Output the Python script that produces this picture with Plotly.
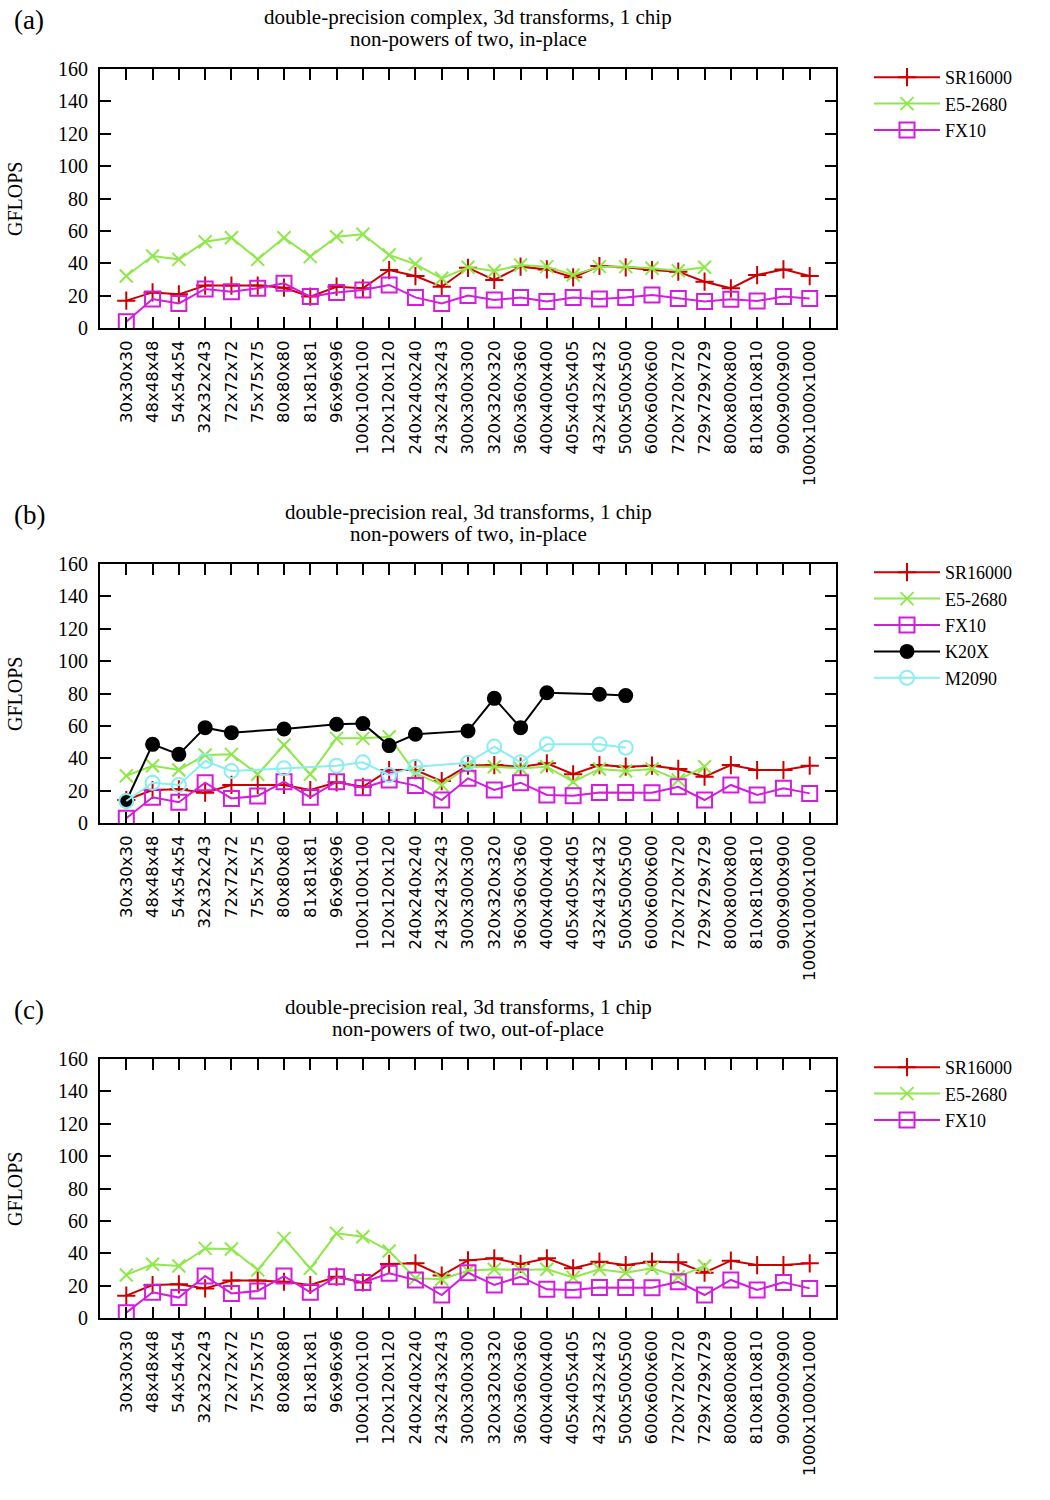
import plotly.graph_objects as go

categories = ["30x30x30", "48x48x48", "54x54x54", "32x32x243", "72x72x72", "75x75x75",
              "80x80x80", "81x81x81", "96x96x96", "100x100x100", "120x120x120",
              "240x240x240", "243x243x243", "300x300x300", "320x320x320", "360x360x360",
              "400x400x400", "405x405x405", "432x432x432", "500x500x500", "600x600x600",
              "720x720x720", "729x729x729", "800x800x800", "810x810x810", "900x900x900",
              "1000x1000x1000"]

y_ticks = [0, 20, 40, 60, 80, 100, 120, 140, 160]

# (a) double-precision complex, in-place
a_sr16000 = [16.9, 22.0, 20.8, 26.2, 26.2, 26.2, 24.9, 19.4, 25.5, 24.5, 35.8, 32.1, 25.5, 37.2,
             29.7, 37.9, 36.2, 31.3, 38.3, 37.5, 35.8, 34.8, 28.6, 24.5, 32.7, 36.2, 32.1]
a_e52680 = [32.1, 44.5, 42.4, 53.3, 55.8, 42.4, 55.8, 44.1, 56.4, 57.9, 45.1, 39.5, 30.7, 37.5,
            35.2, 38.9, 37.9, 32.7, 37.9, 37.9, 36.9, 35.4, 37.5, None, None, None, None]
a_fx10 = [3.9, 17.9, 15.2, 24.1, 22.4, 24.5, 27.6, 19.4, 22.0, 23.5, 26.6, 18.9, 15.2, 20.1,
          17.3, 18.9, 16.3, 18.9, 17.9, 18.9, 20.4, 18.3, 16.3, 17.7, 16.7, 19.4, 18.3]

# (b) double-precision real, in-place
b_sr16000 = [14.2, 20.4, 20.8, 18.7, 23.5, 23.5, 23.5, 20.4, 25.1, 22.4, 32.7, 32.7, 25.9, 35.5,
             35.8, 34.8, 36.9, 30.1, 35.8, 34.8, 35.4, 33.4, 28.6, 35.8, 32.7, 32.7, 35.4]
b_e52680 = [29.2, 35.4, 32.7, 42.0, 42.4, 30.1, 48.2, 30.1, 52.3, 52.3, 53.3, 30.7, 23.5, 34.8,
            34.8, 33.8, 34.8, 25.5, 33.4, 32.1, 33.4, 26.6, 34.8, None, None, None, None]
b_fx10 = [2.9, 15.9, 12.8, 24.9, 15.2, 16.7, 25.5, 15.9, 25.5, 21.8, 26.6, 23.1, 14.2, 27.6,
          20.4, 24.9, 17.3, 16.9, 18.9, 18.9, 18.7, 22.4, 14.2, 23.5, 17.3, 21.4, 18.3]
b_k20x = [13.6, 48.6, 42.4, 58.9, 55.8, None, 58.1, None, 61.0, 61.4, 47.8, 54.8, None, 56.9,
          77.0, 58.9, 80.5, None, 79.5, 78.7, None, None, None, None, None, None, None]
b_m2090 = [13.6, 24.9, 23.5, 38.3, 32.1, None, 33.8, None, 35.4, 37.5, 29.7, 34.8, None, 37.2,
           47.2, 37.5, 48.6, None, 48.6, 46.5, None, None, None, None, None, None, None]

# (c) double-precision real, out-of-place
c_sr16000 = [13.8, 20.4, 20.8, 18.3, 23.1, 23.1, 22.4, 20.4, 25.5, 22.0, 33.4, 33.8, 26.2, 35.6,
             36.9, 33.4, 36.9, 30.7, 34.8, 32.7, 34.8, 34.4, 28.0, 35.4, 32.7, 32.7, 33.8]
c_e52680 = [26.6, 33.2, 32.1, 43.0, 42.6, 29.7, 49.2, 30.7, 52.3, 50.2, 41.4, 24.5, 23.9, 29.2,
            30.1, 29.7, 30.1, 25.1, 30.1, 28.0, 30.7, 25.5, 32.1, None, None, None, None]
c_fx10 = [3.3, 15.9, 12.6, 25.9, 15.2, 16.7, 25.9, 15.9, 25.5, 22.0, 27.6, 23.5, 14.2, 28.0,
          20.4, 25.5, 17.7, 17.3, 18.9, 18.9, 18.7, 22.4, 14.2, 23.5, 17.3, 22.0, 18.3]

panels = [
    ("(a)", "double-precision complex, 3d transforms, 1 chip", "non-powers of two, in-place",
     [("SR16000", a_sr16000), ("E5-2680", a_e52680), ("FX10", a_fx10)]),
    ("(b)", "double-precision real, 3d transforms, 1 chip", "non-powers of two, in-place",
     [("SR16000", b_sr16000), ("E5-2680", b_e52680), ("FX10", b_fx10),
      ("K20X", b_k20x), ("M2090", b_m2090)]),
    ("(c)", "double-precision real, 3d transforms, 1 chip", "non-powers of two, out-of-place",
     [("SR16000", c_sr16000), ("E5-2680", c_e52680), ("FX10", c_fx10)]),
]

styles = {
    "SR16000": dict(color="#cc0000", symbol="cross-thin", size=13),
    "E5-2680": dict(color="#8fe84a", symbol="x-thin", size=13),
    "FX10": dict(color="#d21ddb", symbol="square-open", size=15),
    "K20X": dict(color="#000000", symbol="circle", size=13),
    "M2090": dict(color="#8aeef0", symbol="circle-open", size=14),
}

W, H = 1050, 1500
PX_L, PX_R = 100, 836
plot_tops = [69, 564, 1059]
plot_h = 259
serif = "Liberation Serif"

fig = go.Figure()
layout = dict(width=W, height=H, margin=dict(l=0, r=0, t=0, b=0, autoexpand=False),
              template="none",
              paper_bgcolor="white", plot_bgcolor="white", showlegend=True,
              font=dict(family=serif, color="black", size=20))
annotations = []

for i, (tag, t1, t2, series) in enumerate(panels):
    n = "" if i == 0 else str(i + 1)
    top = plot_tops[i]
    bot = top + plot_h
    dom_y = [1 - bot / H, 1 - top / H]
    leg = "legend" if i == 0 else "legend" + str(i + 1)
    for name, vals in series:
        st = styles[name]
        fig.add_trace(go.Scatter(
            x=categories, y=vals, name=name, mode="lines+markers",
            connectgaps=True, xaxis="x" + n, yaxis="y" + n, legend=leg,
            line=dict(color=st["color"], width=2),
            marker=dict(symbol=st["symbol"], size=st["size"], color=st["color"],
                        line=dict(color=st["color"], width=2)),
        ))
    layout["xaxis" + n] = dict(
        domain=[PX_L / W, PX_R / W], anchor="y" + n, type="category",
        categoryorder="array", categoryarray=categories, range=[-1, 27],
        showline=True, linecolor="black", linewidth=2, mirror="ticks",
        ticks="inside", ticklen=11, tickwidth=1.5, tickcolor="black",
        tickangle=-90, showgrid=False, zeroline=False, automargin=False,
        tickfont=dict(family="DejaVu Sans", size=16.5, color="black"),
        ticklabelstandoff=4,
    )
    layout["yaxis" + n] = dict(
        domain=dom_y, anchor="x" + n, range=[0, 160], tickvals=y_ticks,
        showline=True, linecolor="black", linewidth=2, mirror="ticks",
        ticks="inside", ticklen=11, tickwidth=1.5, tickcolor="black",
        showgrid=False, zeroline=False, automargin=False,
        tickfont=dict(family=serif, size=20, color="black"),
        ticklabelstandoff=6,
    )
    layout[leg] = dict(
        x=869 / W, xanchor="left", y=1 - (top - 10) / H, yanchor="top",
        font=dict(family=serif, size=18, color="black"),
        bgcolor="rgba(0,0,0,0)", borderwidth=0, itemwidth=66,
        tracegroupgap=0,
    )
    annotations.append(dict(text=tag, x=12 / W, y=1 - (top - 49) / H, xref="paper", yref="paper",
                            xanchor="left", yanchor="middle", showarrow=False,
                            font=dict(family=serif, size=27)))
    annotations.append(dict(text=t1, x=468 / W, y=1 - (top - 52) / H, xref="paper", yref="paper",
                            xanchor="center", yanchor="middle", showarrow=False,
                            font=dict(family=serif, size=21)))
    annotations.append(dict(text=t2, x=468 / W, y=1 - (top - 30) / H, xref="paper", yref="paper",
                            xanchor="center", yanchor="middle", showarrow=False,
                            font=dict(family=serif, size=21)))
    annotations.append(dict(text="GFLOPS", x=15 / W, y=1 - (top + 130) / H, xref="paper", yref="paper",
                            xanchor="center", yanchor="middle", textangle=-90, showarrow=False,
                            font=dict(family=serif, size=20)))

layout["annotations"] = annotations
fig.update_layout(**layout)
fig.write_html("out.html")
